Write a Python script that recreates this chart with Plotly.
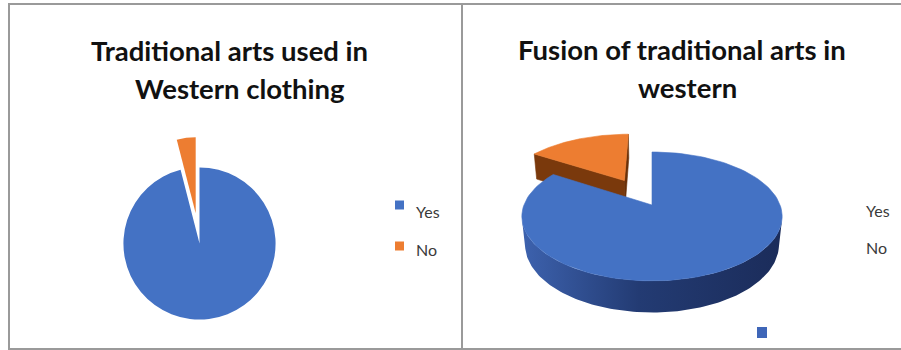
import numpy as np
import plotly.graph_objects as go

# ---------------- data ----------------
categories = ["Yes", "No"]
left_values = [96, 4]
right_values = [84, 16]
left_title_lines = ["Traditional arts used in", "Western clothing"]
right_title_lines = ["Fusion of traditional arts in", "western"]
slice_colors = ["#4472C4", "#ED7D31"]

# ---------------- layout helpers ----------------
W, H = 901, 350


def px(x):
    return x / W


def py(y):
    return 1 - y / H


fig = go.Figure()

# ---------- left: flat pie ----------
cx_l, cy_l, half_box = 199.5, 243.5, 106.5
fig.add_trace(go.Pie(
    labels=categories, values=left_values, sort=False, direction="clockwise",
    rotation=0, pull=[0, 0.40], textinfo="none", hoverinfo="label+percent",
    marker=dict(colors=slice_colors, line=dict(width=0)),
    domain=dict(x=[px(cx_l - half_box), px(cx_l + half_box)],
                y=[py(cy_l + half_box), py(cy_l - half_box)]),
    showlegend=False,
))

# ---------- right: 3-D pie built from the values ----------
ALPHA = np.radians(30)
DIST = 5.0
THICK = 0.24
PULL_NO = 0.48
ORIGIN_PX, ORIGIN_PY = 652, 233
SX, SY = 125, 131.5


def proj(X, Y, Z):
    X, Y, Z = map(np.asarray, (X, Y, Z))
    depth = DIST + Z * np.cos(ALPHA) - Y * np.sin(ALPHA)
    u = X * DIST / depth
    v = (Y * np.cos(ALPHA) + Z * np.sin(ALPHA)) * DIST / depth
    return u, v


total = float(sum(right_values))
bounds = np.concatenate([[0], np.cumsum(right_values)]) / total * 360.0
t_yes = (bounds[0], bounds[1])
t_no = (bounds[1], bounds[2])


def arc(t0, t1, ox, oz, y, n=120):
    t = np.radians(np.linspace(t0, t1, n))
    return ox + np.sin(t), np.full_like(t, y), oz + np.cos(t)


def add_poly(X, Y, Z, color=None, gradient=None):
    u, v = proj(X, Y, Z)
    u = np.append(u, u[0])
    v = np.append(v, v[0])
    kw = dict(x=u, y=v, mode="lines", fill="toself",
              hoverinfo="skip", showlegend=False, xaxis="x", yaxis="y")
    if gradient is not None:
        kw["fillgradient"] = gradient
        kw["fillcolor"] = gradient["colorscale"][1][1]
        kw["line"] = dict(width=0, color="rgba(0,0,0,0)")
    else:
        kw["fillcolor"] = color
        kw["line"] = dict(width=0.6, color=color)
    fig.add_trace(go.Scatter(**kw))


# "No" slice, pulled out along its middle angle
mid = np.radians((t_no[0] + t_no[1]) / 2)
ox, oz = PULL_NO * np.sin(mid), PULL_NO * np.cos(mid)
ta = np.radians(t_no[0])
add_poly([ox, ox + np.sin(ta), ox + np.sin(ta), ox],
         [THICK, THICK, 0, 0],
         [oz, oz + np.cos(ta), oz + np.cos(ta), oz], color="#7A390C")
tb = np.radians(t_no[1])
add_poly([ox, ox + np.sin(tb), ox + np.sin(tb), ox],
         [THICK, THICK, 0, 0],
         [oz, oz + np.cos(tb), oz + np.cos(tb), oz], color="#6A3008")
ax_, ay_, az_ = arc(t_no[0], t_no[1], ox, oz, THICK)
add_poly(np.concatenate([[ox], ax_]), np.concatenate([[THICK], ay_]),
         np.concatenate([[oz], az_]), color=slice_colors[1])

# "Yes" slice: visible outer rim, then top
t_vis = np.degrees(np.arccos(-1 / (DIST * np.cos(ALPHA))))
r0, r1 = max(t_yes[0], t_vis), min(t_yes[1], 360 - t_vis)
tx, ty, tz = arc(r0, r1, 0, 0, THICK)
bx, by, bz = arc(r1, r0, 0, 0, 0.0)
add_poly(np.concatenate([tx, bx]), np.concatenate([ty, by]), np.concatenate([tz, bz]),
         gradient=dict(type="horizontal",
                       colorscale=[[0, "#3D62AE"], [0.45, "#233B73"], [1, "#1B2C5A"]]))
ax_, ay_, az_ = arc(t_yes[0], t_yes[1], 0, 0, THICK)
add_poly(np.concatenate([[0], ax_]), np.concatenate([[THICK], ay_]),
         np.concatenate([[0], az_]), color=slice_colors[0])

x0_px, x1_px = 462, 901
fig.update_layout(
    xaxis=dict(domain=[px(x0_px), px(x1_px)],
               range=[(x0_px - ORIGIN_PX) / SX, (x1_px - ORIGIN_PX) / SX],
               visible=False, fixedrange=True),
    yaxis=dict(domain=[0, 1],
               range=[(ORIGIN_PY - H) / SY, ORIGIN_PY / SY],
               visible=False, fixedrange=True),
)

# ---------- panel borders ----------
shapes = [
    dict(type="rect", xref="paper", yref="paper", x0=px(9), x1=px(462), y0=py(349), y1=py(4),
         line=dict(color="#9A9A9A", width=2)),
    dict(type="rect", xref="paper", yref="paper", x0=px(462), x1=px(910), y0=py(349), y1=py(4),
         line=dict(color="#9A9A9A", width=2)),
]

# ---------- legends ----------
TXT = "#3A3A3A"
legend_font = dict(family="Lato, sans-serif", size=16, color=TXT)
annotations = []
leg_y_text = [211, 249]
leg_y_mark = [205, 246]
for i, lab in enumerate(categories):
    shapes.append(dict(type="rect", xref="paper", yref="paper",
                       x0=px(395), x1=px(404), y0=py(leg_y_mark[i] + 4.5), y1=py(leg_y_mark[i] - 4.5),
                       fillcolor=slice_colors[i], line=dict(width=0)))
    annotations.append(dict(text=lab, x=px(414), y=py(leg_y_text[i]), xref="paper", yref="paper",
                            xanchor="left", yanchor="middle", showarrow=False, font=legend_font))
    annotations.append(dict(text=lab, x=px(864), y=py([210, 248][i]), xref="paper", yref="paper",
                            xanchor="left", yanchor="middle", showarrow=False, font=legend_font))
# stray legend key drawn at the bottom of the right panel
shapes.append(dict(type="rect", xref="paper", yref="paper", x0=px(757), x1=px(767),
                   y0=py(338), y1=py(327), fillcolor="#3F66B8", line=dict(width=0)))

# ---------- titles ----------
title_font = dict(family="Lato, sans-serif", size=27.5, color="#111111")
for text, x, y in [(left_title_lines[0], 229, 51), (left_title_lines[1], 240, 88),
                   (right_title_lines[0], 682, 50), (right_title_lines[1], 687, 87)]:
    annotations.append(dict(text="<b>%s</b>" % text, x=px(x), y=py(y), xref="paper", yref="paper",
                            xanchor="center", yanchor="middle", showarrow=False, font=title_font))

fig.update_layout(
    width=W, height=H, margin=dict(l=0, r=0, t=0, b=0, pad=0),
    paper_bgcolor="white", plot_bgcolor="white",
    shapes=shapes, annotations=annotations, showlegend=False,
)

fig.write_html("out.html", config={"displayModeBar": False, "staticPlot": True},
               post_script="document.body.style.margin='0';document.body.style.overflow='hidden';")
